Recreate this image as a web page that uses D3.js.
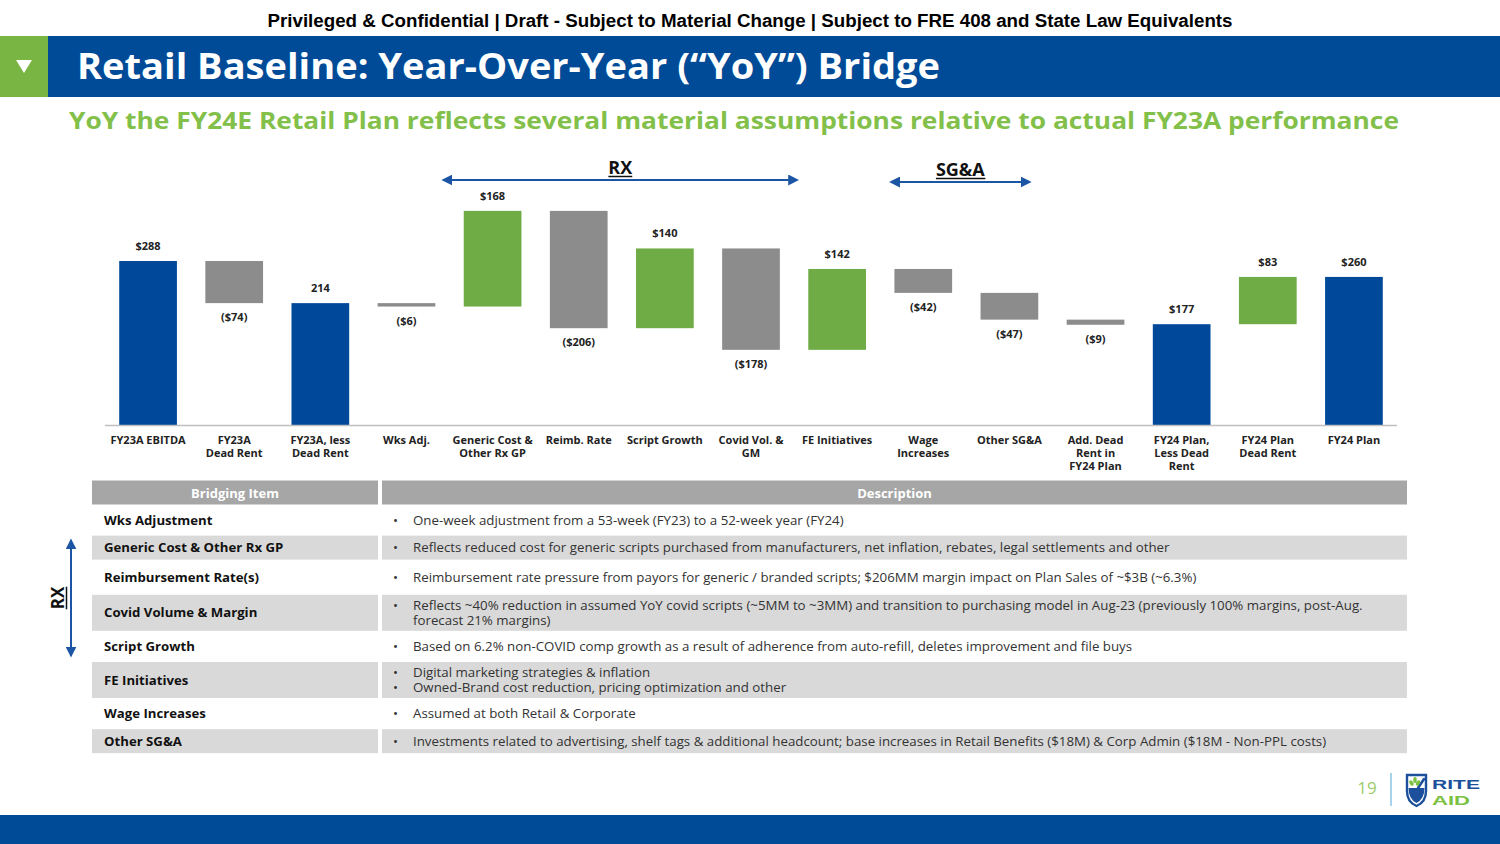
<!DOCTYPE html>
<html>
<head>
<meta charset="utf-8">
<script src="https://cdn.jsdelivr.net/npm/d3@7"></script>
<style>
  body { margin: 0; background: #fff; }
  svg { display: block; }
</style>
</head>
<body>
<script>
// chart data ===============================================================
var categories = [
    "FY23A EBITDA", "FY23A\nDead Rent", "FY23A, less\nDead Rent", "Wks Adj.",
    "Generic Cost &\nOther Rx GP", "Reimb. Rate", "Script Growth", "Covid Vol. &\nGM",
    "FE Initiatives", "Wage\nIncreases", "Other SG&A", "Add. Dead\nRent in\nFY24 Plan",
    "FY24 Plan,\nLess Dead\nRent", "FY24 Plan\nDead Rent", "FY24 Plan"
]
var values      = [288, -74, 214, -6, 168, -206, 140, -178, 142, -42, -47, -9, 177, 83, 260]
var kinds       = ["total", "down", "total", "down", "up", "down", "up", "down", "up", "down", "down", "down", "total", "up", "total"]
var valueLabels = ["$288", "($74)", "214", "($6)", "$168", "($206)", "$140", "($178)", "$142", "($42)", "($47)", "($9)", "$177", "$83", "$260"]
var brackets    = [{ label: "RX", from: 4, to: 7 }, { label: "SG&A", from: 9, to: 10 }]

// table data ===============================================================
var tableHeaders  = ["Bridging Item", "Description"]
var bridgingItems = [
    "Wks Adjustment", "Generic Cost & Other Rx GP", "Reimbursement Rate(s)", "Covid Volume & Margin",
    "Script Growth", "FE Initiatives", "Wage Increases", "Other SG&A"
]
var descriptions = [
    [["One-week adjustment from a 53-week (FY23) to a 52-week year (FY24)"]],
    [["Reflects reduced cost for generic scripts purchased from manufacturers, net inflation, rebates, legal settlements and other"]],
    [["Reimbursement rate pressure from payors for generic / branded scripts; $206MM margin impact on Plan Sales of ~$3B (~6.3%)"]],
    [["Reflects ~40% reduction in assumed YoY covid scripts (~5MM to ~3MM) and transition to purchasing model in Aug-23 (previously 100% margins, post-Aug.", "forecast 21% margins)"]],
    [["Based on 6.2% non-COVID comp growth as a result of adherence from auto-refill, deletes improvement and file buys"]],
    [["Digital marketing strategies & inflation"], ["Owned-Brand cost reduction, pricing optimization and other"]],
    [["Assumed at both Retail & Corporate"]],
    [["Investments related to advertising, shelf tags & additional headcount; base increases in Retail Benefits ($18M) & Corp Admin ($18M - Non-PPL costs)"]]
]
var rxRows = [1, 4]   // rows covered by the RX arrow in the table

// page texts
var confidential = "Privileged & Confidential | Draft - Subject to Material Change | Subject to FRE 408 and State Law Equivalents"
var title        = "Retail Baseline: Year-Over-Year (\u201cYoY\u201d) Bridge"
var subtitle     = "YoY the FY24E Retail Plan reflects several material assumptions relative to actual FY23A performance"
var pageNumber   = "19"

// style =====================================================================
var FONT  = "'Open Sans', 'Noto Sans', sans-serif"
var ARIAL = "'Liberation Sans', Arial, sans-serif"
var colors = {
    navy: "#004b98", green: "#78b543", barBlue: "#00499a", barGrey: "#8c8c8c", barGreen: "#6fac46",
    arrow: "#1b55a3", axis: "#bfbfbf", head: "#a6a6a6", band: "#d9d9d9", sub: "#82c04a", text: "#222"
}

var W = 1500, H = 844

var svg = d3.select("body").append("svg")
    .attr("xmlns", "http://www.w3.org/2000/svg")
    .attr("width", W)
    .attr("height", H)

var defs = svg.append("defs")
defs.append("marker")
    .attr("id", "head")
    .attr("viewBox", "0 0 10 10")
    .attr("refX", 8).attr("refY", 5)
    .attr("markerWidth", 11).attr("markerHeight", 11)
    .attr("markerUnits", "userSpaceOnUse")
    .attr("orient", "auto-start-reverse")
    .append("path").attr("d", "M0,0 L10,5 L0,10 Z").attr("fill", colors.arrow)

// header ====================================================================
svg.append("text")
    .attr("x", 750).attr("y", 27)
    .attr("text-anchor", "middle")
    .attr("font-family", ARIAL).attr("font-weight", "bold").attr("font-size", 17.5)
    .attr("textLength", 965).attr("lengthAdjust", "spacingAndGlyphs")
    .attr("fill", "#000")
    .text(confidential)

svg.append("rect").attr("x", 0).attr("y", 36).attr("width", 48).attr("height", 61).attr("fill", colors.green)
svg.append("rect").attr("x", 48).attr("y", 36).attr("width", W - 48).attr("height", 61).attr("fill", colors.navy)
svg.append("path").attr("d", "M16,60 L32,60 L24,73 Z").attr("fill", "#fff")

svg.append("text")
    .attr("x", 77).attr("y", 79)
    .attr("font-family", FONT).attr("font-weight", 700).attr("font-size", 35)
    .attr("textLength", 863).attr("lengthAdjust", "spacingAndGlyphs")
    .attr("fill", "#fff")
    .text(title)

svg.append("text")
    .attr("x", 69).attr("y", 129)
    .attr("font-family", FONT).attr("font-weight", 700).attr("font-size", 23)
    .attr("textLength", 1330).attr("lengthAdjust", "spacingAndGlyphs")
    .attr("fill", colors.sub)
    .text(subtitle)

// waterfall =================================================================
var x = d3.scaleBand()
    .domain(d3.range(categories.length))
    .range([105, 1397])
    .paddingInner(0.33)
    .paddingOuter(0.165)

var y = d3.scaleLinear().domain([0, 400]).range([425, 197.2])

var bars = []
var running = 0
values.forEach(function(v, i) {
    if (kinds[i] === "total") { bars.push({ i: i, lo: 0, hi: v }); running = v }
    else { bars.push({ i: i, lo: Math.min(running, running + v), hi: Math.max(running, running + v) }); running += v }
})

var chart = svg.append("g")

chart.selectAll(".bar")
    .data(bars)
    .enter().append("rect")
    .attr("x", function(d) { return x(d.i) })
    .attr("width", x.bandwidth())
    .attr("y", function(d) { return y(d.hi) })
    .attr("height", function(d) { return Math.max(1, y(d.lo) - y(d.hi)) })
    .attr("fill", function(d) { return kinds[d.i] === "total" ? colors.barBlue : kinds[d.i] === "up" ? colors.barGreen : colors.barGrey })

chart.append("line")
    .attr("x1", 105).attr("x2", 1397)
    .attr("y1", y(0) + 0.5).attr("y2", y(0) + 0.5)
    .attr("stroke", colors.axis).attr("stroke-width", 1.5)

chart.selectAll(".val")
    .data(bars)
    .enter().append("text")
    .attr("x", function(d) { return x(d.i) + x.bandwidth() / 2 })
    .attr("y", function(d) { return kinds[d.i] === "down" ? y(d.lo) + 18 : y(d.hi) - 11 })
    .attr("text-anchor", "middle")
    .attr("font-family", FONT).attr("font-weight", 700).attr("font-size", 11)
    .attr("fill", colors.text)
    .text(function(d) { return valueLabels[d.i] })

var cat = chart.selectAll(".cat")
    .data(categories)
    .enter().append("text")
    .attr("text-anchor", "middle")
    .attr("font-family", FONT).attr("font-weight", 700).attr("font-size", 11)
    .attr("fill", colors.text)
cat.each(function(d, i) {
    var t = d3.select(this)
    d.split("\n").forEach(function(line, j) {
        t.append("tspan")
            .attr("x", x(i) + x.bandwidth() / 2)
            .attr("y", 444 + j * 13)
            .text(line)
    })
})

// group arrows over the bars
var bracketLayout = [{ l: 52, r: 49, ty: 174, ay: 180 }, { l: 35, r: 23, ty: 176, ay: 182 }]
brackets.forEach(function(b, k) {
    var lay = bracketLayout[k]
    var x0 = x(b.from) + x.bandwidth() / 2 - lay.l
    var x1 = x(b.to) + x.bandwidth() / 2 + lay.r
    chart.append("line")
        .attr("x1", x0 + 3).attr("x2", x1 - 3)
        .attr("y1", lay.ay).attr("y2", lay.ay)
        .attr("stroke", colors.arrow).attr("stroke-width", 2)
        .attr("marker-start", "url(#head)").attr("marker-end", "url(#head)")
    var t = chart.append("text")
        .attr("x", (x0 + x1) / 2).attr("y", lay.ty)
        .attr("text-anchor", "middle")
        .attr("font-family", FONT).attr("font-weight", 700).attr("font-size", 18)
        .attr("fill", "#111")
        .text(b.label)
    var bb = t.node().getBBox()
    chart.append("line")
        .attr("x1", bb.x).attr("x2", bb.x + bb.width)
        .attr("y1", lay.ty + 2.5).attr("y2", lay.ty + 2.5)
        .attr("stroke", "#111").attr("stroke-width", 1.5)
})

// table =====================================================================
var col1 = [92, 378], col2 = [382, 1407]
var rowHeights = [24, 24, 28, 36, 24, 36, 24, 24]
var rowGap = 3.6
var rowTop = []
var acc = 508
rowHeights.forEach(function(h) { rowTop.push(acc); acc += h + rowGap })

var table = svg.append("g")

table.selectAll(".hd")
    .data([col1, col2])
    .enter().append("rect")
    .attr("x", function(c) { return c[0] }).attr("width", function(c) { return c[1] - c[0] })
    .attr("y", 480.5).attr("height", 24)
    .attr("fill", colors.head)

table.selectAll(".hdt")
    .data(tableHeaders)
    .enter().append("text")
    .attr("x", function(d, i) { var c = i ? col2 : col1; return (c[0] + c[1]) / 2 })
    .attr("y", 497.5)
    .attr("text-anchor", "middle")
    .attr("font-family", FONT).attr("font-weight", 700).attr("font-size", 13)
    .attr("fill", "#fff")
    .text(function(d) { return d })

var rows = table.selectAll(".row")
    .data(bridgingItems)
    .enter().append("g")
    .attr("transform", function(d, i) { return "translate(0," + rowTop[i] + ")" })

rows.each(function(d, i) {
    if (i % 2 === 0) return
    var g = d3.select(this)
    ;[col1, col2].forEach(function(c) {
        g.append("rect").attr("x", c[0]).attr("width", c[1] - c[0]).attr("y", 0).attr("height", rowHeights[i]).attr("fill", colors.band)
    })
})

rows.append("text")
    .attr("x", 104)
    .attr("y", function(d, i) { return rowHeights[i] / 2 + 4.6 })
    .attr("font-family", FONT).attr("font-weight", 700).attr("font-size", 13.2)
    .attr("fill", "#111")
    .text(function(d) { return d })

rows.each(function(d, i) {
    var g = d3.select(this)
    var lines = []
    descriptions[i].forEach(function(bullet) {
        bullet.forEach(function(line, j) { lines.push({ text: line, bullet: j === 0 }) })
    })
    var lh = 15
    var first = rowHeights[i] / 2 - (lines.length - 1) * lh / 2 + 4.6
    lines.forEach(function(l, j) {
        if (l.bullet) {
            g.append("text")
                .attr("x", 393).attr("y", first + j * lh)
                .attr("font-family", FONT).attr("font-size", 13.3).attr("fill", "#333")
                .text("\u2022")
        }
        g.append("text")
            .attr("x", 413).attr("y", first + j * lh)
            .attr("font-family", FONT).attr("font-size", 13.3).attr("fill", "#333")
            .text(l.text)
    })
})

// RX arrow next to the table
var rxTop = rowTop[rxRows[0]] + 2, rxBot = rowTop[rxRows[1]] + rowHeights[rxRows[1]]
table.append("line")
    .attr("x1", 71).attr("x2", 71)
    .attr("y1", rxTop + 3).attr("y2", rxBot - 3)
    .attr("stroke", colors.arrow).attr("stroke-width", 2)
    .attr("marker-start", "url(#head)").attr("marker-end", "url(#head)")
var rxMid = (rxTop + rxBot) / 2
var rxT = table.append("text")
    .attr("transform", "translate(64," + rxMid + ") rotate(-90)")
    .attr("text-anchor", "middle")
    .attr("font-family", FONT).attr("font-weight", 700).attr("font-size", 17)
    .attr("fill", "#111")
    .text("RX")
var rxw = rxT.node().getComputedTextLength()
table.append("line")
    .attr("x1", 66.5).attr("x2", 66.5)
    .attr("y1", rxMid - rxw / 2).attr("y2", rxMid + rxw / 2)
    .attr("stroke", "#111").attr("stroke-width", 1.5)

// footer ====================================================================
svg.append("rect").attr("x", 0).attr("y", 815).attr("width", W).attr("height", H - 815).attr("fill", colors.navy)

svg.append("text")
    .attr("x", 1367).attr("y", 794)
    .attr("text-anchor", "middle")
    .attr("font-family", FONT).attr("font-size", 17)
    .attr("fill", "#9ccc6a")
    .text(pageNumber)
svg.append("line")
    .attr("x1", 1391).attr("x2", 1391).attr("y1", 773).attr("y2", 806)
    .attr("stroke", "#6ab7e0").attr("stroke-width", 1.2)

// logo
var logo = svg.append("g").attr("transform", "translate(1406,774)")
logo.append("path")
    .attr("d", "M1,1 H20 V17 Q20,28 10.5,32 Q1,28 1,17 Z")
    .attr("fill", "#fff").attr("stroke", "#1c4f9c").attr("stroke-width", 2.4)
logo.append("path")
    .attr("d", "M2.5,14 H18.5 Q18.5,25 10.5,29 Q2.5,25 2.5,14 Z")
    .attr("fill", "#1c4f9c")
logo.append("line")
    .attr("x1", 12).attr("y1", 14).attr("x2", 18).attr("y2", 5)
    .attr("stroke", "#1c4f9c").attr("stroke-width", 2.6).attr("stroke-linecap", "round")
;[[5.5, 9, -30], [9, 6, 0], [12, 9, 30]].forEach(function(p) {
    logo.append("ellipse")
        .attr("cx", p[0]).attr("cy", p[1]).attr("rx", 1.8).attr("ry", 3)
        .attr("transform", "rotate(" + p[2] + "," + p[0] + "," + p[1] + ")")
        .attr("fill", "#7cc142")
})
logo.append("text")
    .attr("x", 26).attr("y", 14.5)
    .attr("font-family", ARIAL).attr("font-weight", "bold").attr("font-size", 13.5)
    .attr("textLength", 48).attr("lengthAdjust", "spacingAndGlyphs")
    .attr("fill", "#1c4f9c").text("RITE")
logo.append("text")
    .attr("x", 26).attr("y", 31)
    .attr("font-family", ARIAL).attr("font-weight", "bold").attr("font-size", 13.5)
    .attr("textLength", 38).attr("lengthAdjust", "spacingAndGlyphs")
    .attr("fill", "#7cc142").text("AID")
</script>
</body>
</html>
